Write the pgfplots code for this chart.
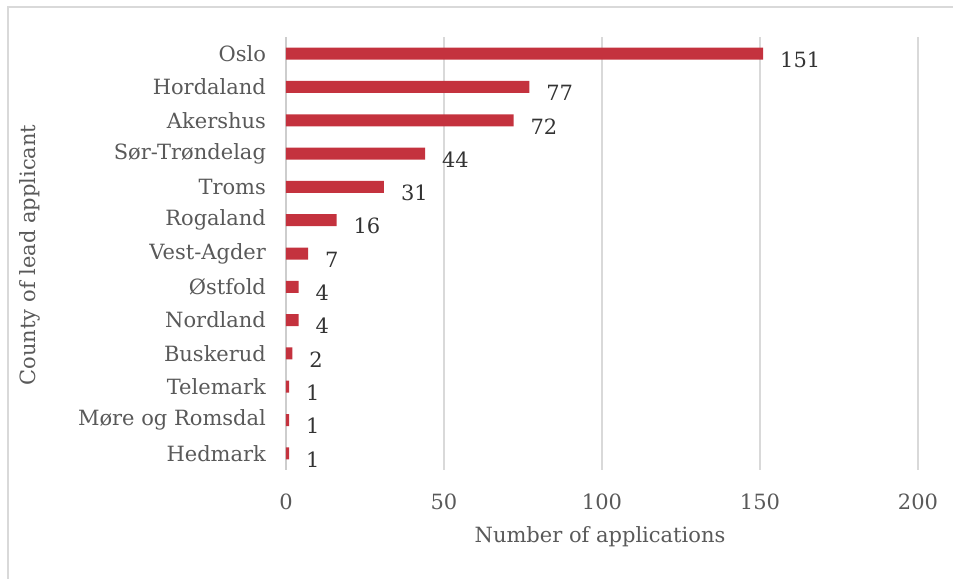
\documentclass[border=0pt]{standalone}
\usepackage{fontspec}
\setmainfont{DejaVu Serif}
\usepackage{pgfplots}
\pgfplotsset{compat=1.18}
\definecolor{barred}{RGB}{196,50,62}
\definecolor{txt}{RGB}{89,89,89}
\definecolor{gridgray}{RGB}{217,217,217}
\definecolor{axgray}{RGB}{205,205,205}
\begin{document}
\begin{tikzpicture}[x=1pt,y=1pt]
\path[use as bounding box] (0,0) rectangle (477.5,289.5);
\draw[draw=gridgray,line width=1pt] (3.75,0) -- (3.75,285.75) -- (476.5,285.75);
\begin{axis}[
  at={(143pt,54.5pt)}, anchor=south west,
  scale only axis, width=316pt, height=216.5pt,
  xbar, bar width=6pt,
  xmin=0, xmax=200, xtick={0,50,100,150,200},
  ymin=-0.5, ymax=12.5, y dir=reverse,
  ytick={0,...,12},
  yticklabels={Oslo,Hordaland,Akershus,Sør-Trøndelag,Troms,Rogaland,Vest-Agder,Østfold,Nordland,Buskerud,Telemark,Møre og Romsdal,Hedmark},
  axis lines=left,
  x axis line style={draw=none},
  y axis line style={draw=axgray,line width=0.8pt,-},
  major tick length=0pt,
  tick style={draw=none},
  xmajorgrids, ymajorgrids=false, grid style={draw=gridgray,line width=0.8pt},
  tick label style={font=\fontsize{10.5}{12}\selectfont, text=txt},
  /pgf/number format/assume math mode=true,
  xticklabel style={yshift=-8.5pt},
  yticklabel style={xshift=-6.5pt},
  nodes near coords,
  nodes near coords style={font=\fontsize{10.5}{12}\selectfont, text=black!80, anchor=west, xshift=5pt, yshift=-3pt},
  every node near coord/.append style={/pgf/number format/assume math mode=true},
  clip=false,
]
\addplot[fill=barred, draw=none] coordinates {
(151,0) (77,1) (72,2) (44,3) (31,4) (16,5) (7,6) (4,7) (4,8) (2,9) (1,10) (1,11) (1,12)};
\end{axis}
\node[font=\fontsize{10.5}{12}\selectfont, text=txt] at (300,21) {Number of applications};
\node[font=\fontsize{10.5}{12}\selectfont, text=txt, rotate=90] at (15,162) {County of lead applicant};
\end{tikzpicture}
\end{document}
